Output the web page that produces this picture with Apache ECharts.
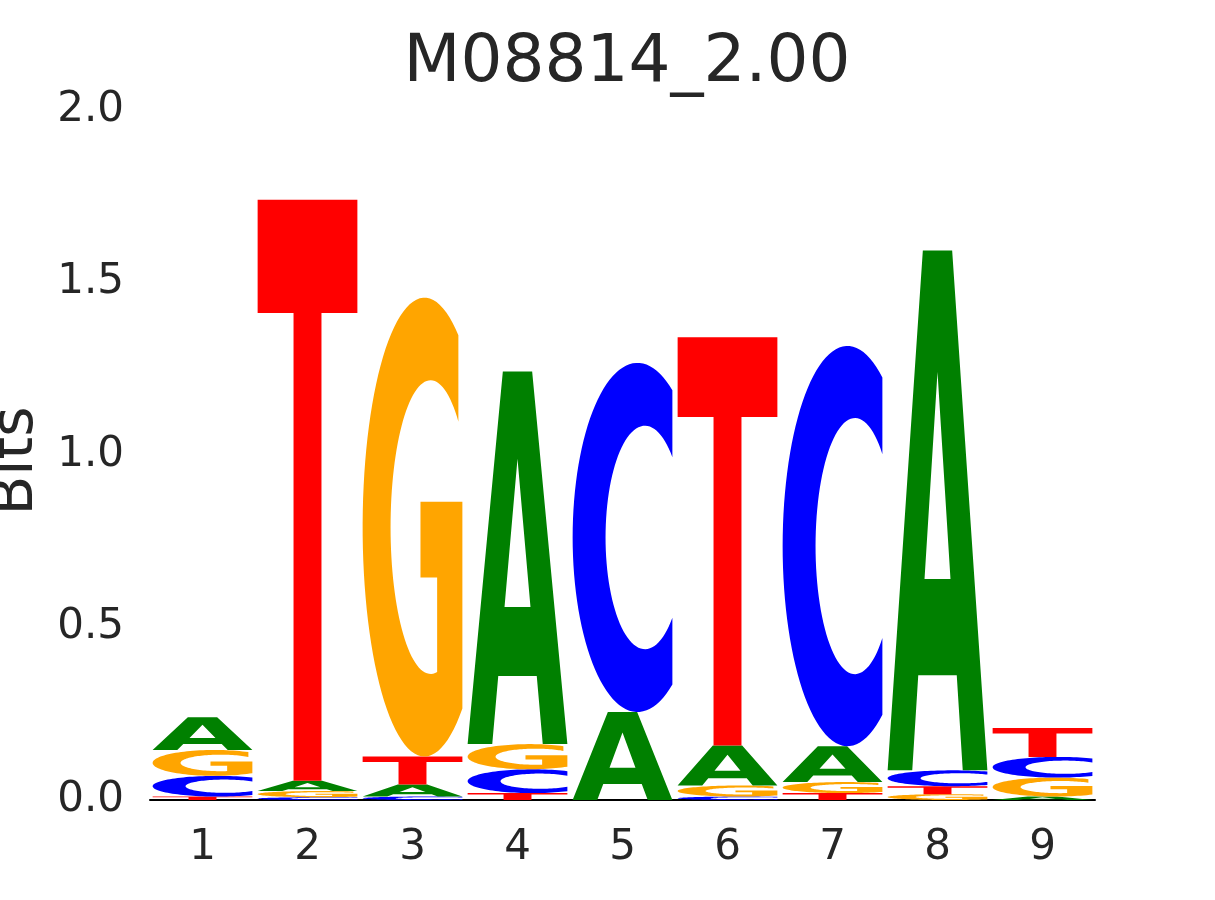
<!DOCTYPE html>
<html>
<head>
<meta charset="utf-8">
<script src="https://cdn.jsdelivr.net/npm/echarts@6/dist/echarts.min.js"></script>
<style>html,body{margin:0;padding:0;background:#fff}#chart{width:1215px;height:900px}</style>
</head>
<body>
<div id="chart"></div>
<script>
// ---- data ----
const positions = ['1','2','3','4','5','6','7','8','9'];
const bitsA = [0.095, 0.030, 0.035, 1.080, 0.255, 0.116, 0.104, 1.507, 0.010];
const bitsC = [0.060, 0.008, 0.010, 0.069, 1.012, 0.010, 1.160, 0.046, 0.060];
const bitsG = [0.075, 0.018, 1.330, 0.073, 0.000, 0.032, 0.032, 0.017, 0.055];
const bitsT = [0.010, 1.684, 0.081, 0.020, 0.000, 1.183, 0.020, 0.023, 0.084];
const yTicks = [0, 0.5, 1.0, 1.5, 2.0];
const titleText = 'M08814_2.00';
const yName = 'Bits';

const letterColors = {A: '#008000', C: '#0000ff', G: '#ffa500', T: '#ff0000'};
const letterBits = {A: bitsA, C: bitsC, G: bitsG, T: bitsT};

// ---- glyph outlines in a unit box (percent units, y down) ----
function arc(cx, cy, rx, ry, a0, a1, n) {
  const pts = [];
  for (let k = 0; k <= n; k++) {
    const a = (a0 + (a1 - a0) * k / n) * Math.PI / 180;
    pts.push([cx + rx * Math.cos(a), cy - ry * Math.sin(a)]);
  }
  return pts;
}
const deg = v => Math.acos(v) * 180 / Math.PI;
function glyphC() {
  const oA = deg(35 / 65);
  const iA = deg(27.5 / 39.5);
  return [arc(65, 50, 65, 50, oA, 360 - oA, 80).concat(arc(72.5, 50, 39.5, 32, 360 - iA, iA, 80))];
}
function glyphG() {
  const tA = deg(34 / 62);
  const bA = 360 - deg(38 / 62);
  const outer = arc(62, 50, 62, 50, tA, bA, 80);
  const bar = [[100, 44.5], [58, 44.5], [58, 61], [74.7, 61]];
  const iS = 360 - deg(6.6 / 40.1);
  const iE = deg(27.9 / 40.1);
  const inner = arc(68.1, 50, 40.1, 32, iS, iE, 80);
  return [outer.concat(bar, inner)];
}
const glyphs = {
  A: [
    [[0,100],[35.3,0],[64.7,0],[100,100],[75.3,100],[69.3,81.7],[30.7,81.7],[24.7,100]],
    [[50,23.4],[37,63.2],[63,63.2]]
  ],
  C: glyphC(),
  G: glyphG(),
  T: [[[0,0],[100,0],[100,19.5],[64,19.5],[64,100],[36,100],[36,19.5],[0,19.5]]]
};

function glyphPath(letter, x0, w, yTop, h) {
  let d = '';
  glyphs[letter].forEach(contour => {
    contour.forEach((p, k) => {
      const px = x0 + p[0] / 100 * w;
      const py = yTop + p[1] / 100 * h;
      d += (k === 0 ? 'M' : 'L') + px.toFixed(2) + ' ' + py.toFixed(2) + ' ';
    });
    d += 'Z ';
  });
  return d;
}

const seriesData = positions.map((p, i) => [i, bitsA[i] + bitsC[i] + bitsG[i] + bitsT[i]]);

function renderItem(params, api) {
  const i = api.value(0);
  const band = api.size([1, 0])[0];
  const w = band * 0.95;
  const cx = api.coord([i, 0])[0];
  const x0 = cx - w / 2;
  const letters = ['A', 'C', 'G', 'T']
    .map(L => ({L, v: letterBits[L][i]}))
    .filter(o => o.v > 0)
    .sort((a, b) => a.v - b.v);
  let base = 0;
  const children = [];
  letters.forEach(o => {
    const yBot = api.coord([i, base])[1];
    const yTop = api.coord([i, base + o.v])[1];
    children.push({
      type: 'path',
      shape: {pathData: glyphPath(o.L, x0, w, yTop, yBot - yTop)},
      style: {fill: letterColors[o.L], stroke: null}
    });
    base += o.v;
  });
  return {type: 'group', children};
}

const chart = echarts.init(document.getElementById('chart'), null, {renderer: 'canvas'});
const font = 'DejaVu Sans';
chart.setOption({
  animation: false,
  backgroundColor: '#ffffff',
  title: {
    text: titleText,
    left: 622, top: 26, textAlign: 'center',
    textStyle: {fontFamily: font, fontSize: 66, fontWeight: 'normal', color: '#262626'}
  },
  grid: {left: 150, right: 120, top: 110, bottom: 100, containLabel: false, outerBoundsMode: 'none'},
  xAxis: {
    type: 'category',
    data: positions,
    axisTick: {show: false},
    axisLine: {show: true, lineStyle: {color: '#000000', width: 2}},
    axisLabel: {fontFamily: font, fontSize: 42, color: '#262626', margin: 27},
    splitLine: {show: false}
  },
  yAxis: {
    type: 'value',
    min: yTicks[0], max: yTicks[yTicks.length - 1], interval: 0.5,
    axisLine: {show: false}, axisTick: {show: false}, splitLine: {show: false},
    axisLabel: {fontFamily: font, fontSize: 42, color: '#262626', margin: 26,
      padding: [6, 0, 0, 0],
      formatter: v => v.toFixed(1)},
    name: yName, nameLocation: 'middle', nameGap: 103, nameRotate: 90,
    nameTextStyle: {fontFamily: font, fontSize: 58, color: '#262626', padding: [0, 12, 0, 0]}
  },
  series: [{
    type: 'custom',
    renderItem: renderItem,
    data: seriesData,
    encode: {x: 0, y: 1},
    clip: false
  }]
});
</script>
</body>
</html>
